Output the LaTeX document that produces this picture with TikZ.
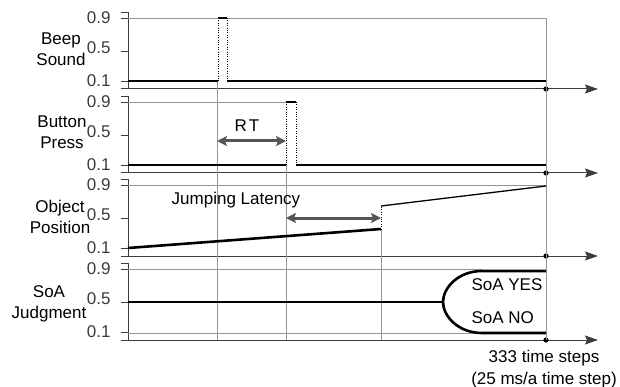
\documentclass[tikz,border=0pt]{standalone}
\usepackage{fontspec}
\setmainfont{Liberation Sans}
\usetikzlibrary{arrows.meta}
\definecolor{axisgray}{RGB}{60,60,60}
\definecolor{refgray}{RGB}{150,150,150}
\definecolor{spangray}{RGB}{85,85,85}

\begin{document}
\begin{tikzpicture}[x=1pt,y=-1pt,font=\fontsize{17}{21}\selectfont,
  sig/.style={line width=2.6pt},
  refline/.style={refgray,line width=0.9pt},
  timeaxis/.style={axisgray,line width=1pt,-{Stealth[length=13pt,width=9pt,inset=2pt]}},
  span/.style={spangray,line width=3pt,{Stealth[length=10pt,width=10pt,inset=2pt]}-{Stealth[length=10pt,width=10pt,inset=2pt]}},
  lbl/.style={align=center,inner sep=0pt}]
\useasboundingbox (0,0) rectangle (620,387);
\foreach \a [count=\i] in {89,173,256,340}{
  \draw[axisgray,line width=0.9pt] (121,\a-77) -- (128,\a-77) -- (128,\a);
  \foreach \v/\d/\s in {0.9/71/0,0.5/38/3,0.1/8/0}
    \draw[axisgray,line width=0.9pt] (121,\a-\d) -- (128,\a-\d) node[pos=0,anchor=east,inner sep=0pt,xshift=-10pt,yshift=\s pt] (v\i-\d) {\v};
  \draw[timeaxis] (121,\a) -- (598,\a);
  \fill (546,\a) circle (2.6);
}
\node[lbl] (beep) at (61,49) {Beep\\Sound};
\node[lbl] (press) at (62,132) {Button\\Press};
\node[lbl] (obj) at (60,217) {Object\\Position};
\node[lbl] (soa) at (49,304) {SoA\\Judgment};
\coordinate (rtL) at (217,141);
\coordinate (rtR) at (286,141);
\coordinate (jlL) at (286,218);
\coordinate (jlR) at (381,218);
\draw[refgray] (546,18) -- (546,340);
\draw[refgray] (217,81) -- (217,340);
\draw[refgray] (286,165) -- (286,340);
\draw[refgray] (381,229) -- (381,340);
\draw[refline] (128,18) -- (546,18);
\draw[sig] (128,81) -- (218,81) (227,81) -- (546,81);
\draw[sig] (218,18) -- (227,18);
\draw[dotted,thin] (218,18) -- (218,81) (227,18) -- (227,81);
\draw[refline] (128,102) -- (286,102);
\draw[sig] (128,165) -- (286,165) (296,165) -- (546,165);
\draw[sig] (286,102) -- (296,102);
\draw[dotted,thin] (286,102) -- (286,165) (296,102) -- (296,165);
\draw[refline] (128,185) -- (546,185);
\draw[sig] (128,248) -- (381,229);
\draw[dotted,thin] (381,229) -- (381,206);
\draw[line width=1.3pt] (381,206) -- (546,186);
\draw[refline] (128,269) -- (482,269) (128,333) -- (482,333);
\draw[sig] (128,302) -- (443,302);
\draw[sig] (546,271) -- (482,271) .. controls (458,271) and (443,288) .. (443,302) .. controls (443,316) and (458,333) .. (482,333) -- (546,333);
\draw[span] (rtL) -- (rtR);
\draw[span] (jlL) -- (jlR);
\node (rt) at (247,126) {R\kern2pt T};
\node (jl) at (236,200) {Jumping Latency};
\node[anchor=west] (yes) at (468,285) {SoA YES};
\node[anchor=west] (no) at (468,318) {SoA NO};
\node[lbl,text depth=0pt] (steps) at (544,367) {333 time steps\\[1pt](25 ms/a time step)};
\end{tikzpicture}
\end{document}
